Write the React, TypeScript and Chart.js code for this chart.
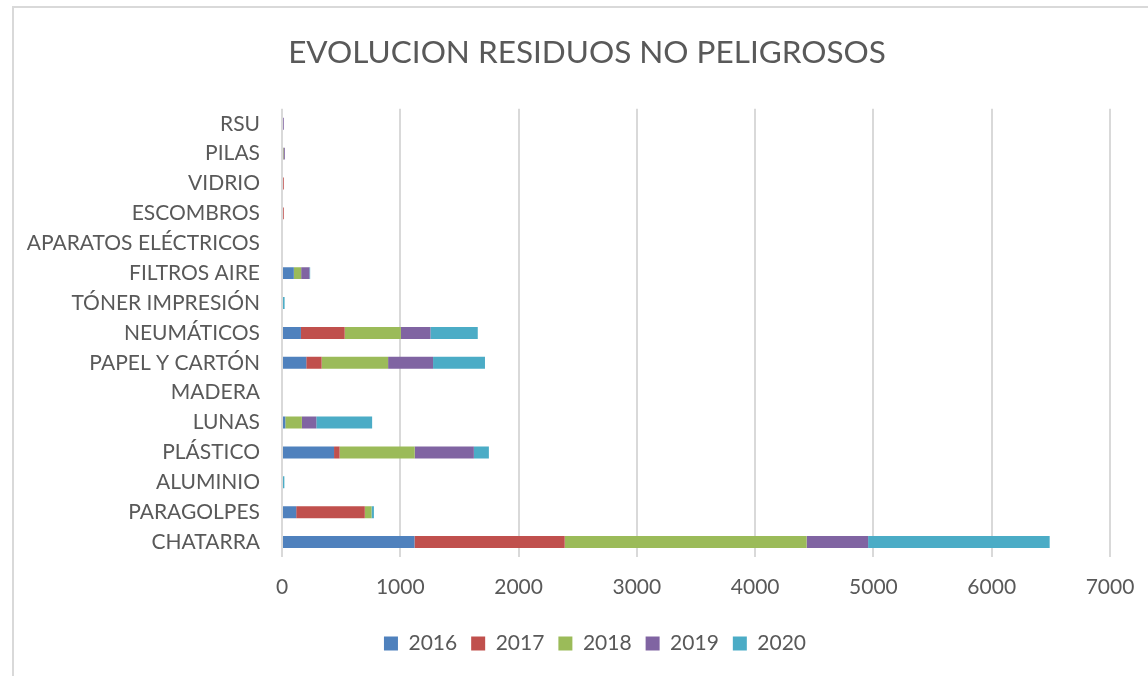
import React, { useEffect, useRef } from "react";
import { Chart, registerables } from "chart.js";

Chart.register(...registerables);

const categories = [
  "RSU",
  "PILAS",
  "VIDRIO",
  "ESCOMBROS",
  "APARATOS ELÉCTRICOS",
  "FILTROS AIRE",
  "TÓNER IMPRESIÓN",
  "NEUMÁTICOS",
  "PAPEL Y CARTÓN",
  "MADERA",
  "LUNAS",
  "PLÁSTICO",
  "ALUMINIO",
  "PARAGOLPES",
  "CHATARRA",
];

const values2016 = [0, 0, 0, 0, 0, 100, 0, 160, 205, 0, 28, 440, 0, 120, 1120];
const values2017 = [0, 0, 15, 15, 0, 0, 0, 370, 130, 0, 0, 47, 0, 580, 1270];
const values2018 = [0, 12, 0, 0, 0, 62, 0, 475, 562, 0, 140, 635, 0, 57, 2045];
const values2019 = [15, 12, 0, 0, 0, 70, 0, 250, 380, 0, 122, 500, 0, 0, 520];
const values2020 = [0, 0, 0, 0, 0, 6, 22, 400, 439, 0, 472, 127, 20, 20, 1535];

const seriesNames = ["2016", "2017", "2018", "2019", "2020"];
const seriesColors = ["#4F81BD", "#C0504D", "#9BBB59", "#8064A2", "#4BACC6"];
const xTicks = [0, 1000, 2000, 3000, 4000, 5000, 6000, 7000];

const FONT = "Lato, 'Noto Sans', sans-serif";
const TEXT = "#595959";

const blockShift = {
  id: "blockShift",
  afterLayout(chart: any) {
    const lg = chart.legend;
    if (lg) {
      lg.left += 40;
      lg.right += 40;
    }
    const tb = chart.titleBlock;
    if (tb) {
      tb.left += 32;
      tb.right += 32;
    }
  },
};

export default function App() {
  const ref = useRef<HTMLCanvasElement | null>(null);

  useEffect(() => {
    if (!ref.current) return;
    const series = [values2016, values2017, values2018, values2019, values2020];
    const chart = new Chart(ref.current, {
      type: "bar",
      data: {
        labels: categories,
        datasets: series.map((d, i) => ({
          label: seriesNames[i],
          data: d,
          backgroundColor: seriesColors[i],
          borderWidth: 0,
          barPercentage: 0.4,
          categoryPercentage: 1,
        })),
      },
      plugins: [blockShift],
      options: {
        indexAxis: "y",
        animation: false,
        responsive: false,
        maintainAspectRatio: false,
        layout: { padding: { left: 0, right: 38, top: 0, bottom: 12 } },
        scales: {
          x: {
            stacked: true,
            min: 0,
            max: 7000,
            afterBuildTicks: (scale: any) => {
              scale.ticks = xTicks.map((v) => ({ value: v }));
            },
            afterFit: (scale: any) => {
              scale.height = 62;
              scale.paddingLeft = 0;
              scale.paddingRight = 0;
            },
            grid: {
              color: "#d9d9d9",
              lineWidth: 2,
              drawTicks: false,
            },
            border: { display: false },
            ticks: {
              color: TEXT,
              font: { family: FONT, size: 21 },
              padding: 18,
              callback: (v: any) => String(v),
            },
          },
          y: {
            stacked: true,
            afterFit: (scale: any) => {
              scale.width = 282;
            },
            grid: { display: false, drawTicks: false },
            border: { display: false },
            ticks: {
              color: TEXT,
              font: { family: FONT, size: 21 },
              padding: 22,
              autoSkip: false,
            },
          },
        },
        plugins: {
          title: {
            display: true,
            text: "EVOLUCION RESIDUOS NO PELIGROSOS",
            color: TEXT,
            font: { family: FONT, size: 31.5, weight: "normal" },
            padding: { top: 34, bottom: 37 },
          },
          legend: {
            position: "bottom",
            labels: {
              color: TEXT,
              font: { family: FONT, size: 21 },
              boxWidth: 14,
              boxHeight: 14,
              padding: 14,
            },
          },
          tooltip: { enabled: false },
        },
      },
    });
    return () => chart.destroy();
  }, []);

  return (
    <div
      style={{
        position: "fixed",
        left: 0,
        top: 0,
        width: 1148,
        height: 676,
        background: "#ffffff",
        overflow: "hidden",
      }}
    >
      <div
        style={{
          position: "absolute",
          left: 12,
          top: 6,
          width: 1200,
          height: 720,
          border: "2px solid #d9d9d9",
          boxSizing: "border-box",
        }}
      />
      <canvas
        ref={ref}
        width={1148}
        height={676}
        style={{ position: "absolute", left: 0, top: 0, width: 1148, height: 676 }}
      />
    </div>
  );
}
